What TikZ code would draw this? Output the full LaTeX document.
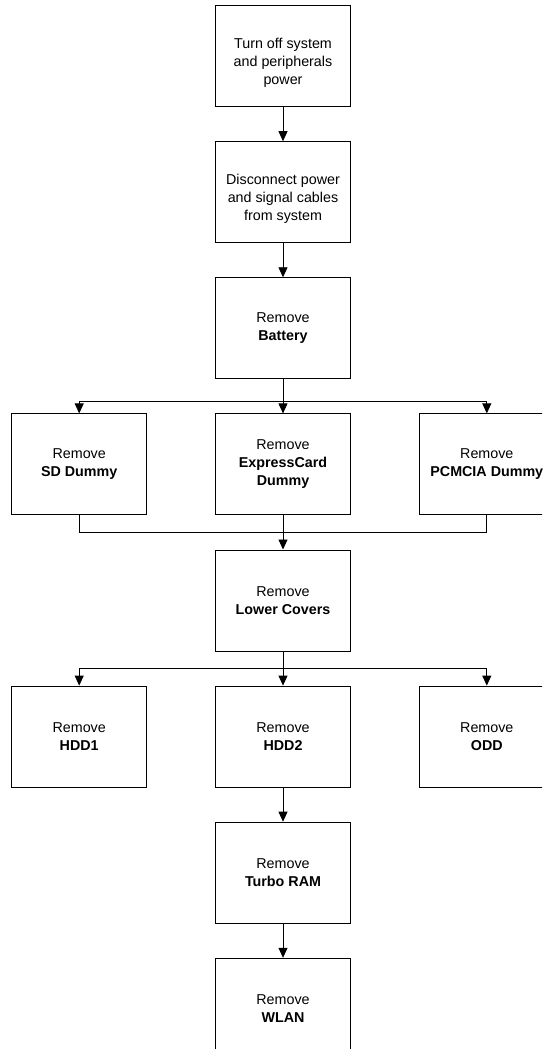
\documentclass[tikz,border=0pt]{standalone}
\usepackage{fontspec}
\setmainfont{Liberation Sans}
\usetikzlibrary{positioning, arrows.meta}

\newcommand{\toppad}{\rule{0pt}{24pt}}

\begin{document}
\begin{tikzpicture}[
  x=1pt, y=-1pt, line width=0.8pt,
  node distance=34.3pt and 68pt,
  box/.style={draw, align=center, minimum width=135pt, minimum height=101pt, inner sep=2pt, font=\fontsize{14.3}{18}\selectfont},
  arrow/.style={-{Triangle[length=10pt, width=9pt]}}
]
\useasboundingbox (0,0) rectangle (542,1049);
\clip (0,0) rectangle (542,1049);

\node[box] (off) at (283,56) {\toppad Turn off system\\and peripherals\\power};
\node[box, below=of off] (cables) {\toppad Disconnect power\\and signal cables\\from system};
\node[box, below=of cables] (battery) {Remove\\\textbf{Battery}};

\node[box, below=of battery] (express) {Remove\\\textbf{ExpressCard}\\\textbf{Dummy}};
\node[box, left=of express] (sd) {Remove\\\textbf{SD Dummy}};
\node[box, right=of express] (pcmcia) {Remove\\\textbf{PCMCIA Dummy}};

\node[box, below=of express] (lower) {Remove\\\textbf{Lower Covers}};

\node[box, below=of lower] (hdd2) {Remove\\\textbf{HDD2}};
\node[box, left=of hdd2] (hdd1) {Remove\\\textbf{HDD1}};
\node[box, right=of hdd2] (odd) {Remove\\\textbf{ODD}};

\node[box, below=of hdd2] (turbo) {Remove\\\textbf{Turbo RAM}};
\node[box, below=of turbo] (wlan) {Remove\\\textbf{WLAN}};

\coordinate[below=22pt of battery] (split1);
\coordinate[below=17pt of express] (join1);
\coordinate[below=17pt of lower] (split2);

\draw[arrow] (off) -- (cables);
\draw[arrow] (cables) -- (battery);

\draw[arrow] (battery) -- (split1) -| (sd);
\draw[arrow] (battery) -- (express);
\draw[arrow] (battery) -- (split1) -| (pcmcia);

\draw (sd) |- (join1);
\draw (pcmcia) |- (join1);
\draw[arrow] (express) -- (lower);

\draw[arrow] (lower) -- (split2) -| (hdd1);
\draw[arrow] (lower) -- (hdd2);
\draw[arrow] (lower) -- (split2) -| (odd);

\draw[arrow] (hdd2) -- (turbo);
\draw[arrow] (turbo) -- (wlan);
\end{tikzpicture}
\end{document}
